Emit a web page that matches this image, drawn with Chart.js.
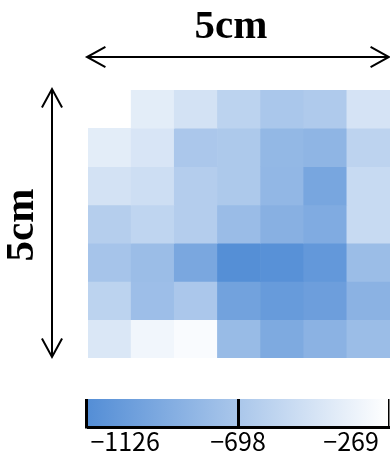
<!DOCTYPE html>
<html>
<head>
<meta charset="utf-8">
<script src="https://cdn.jsdelivr.net/npm/chart.js@4.4.1/dist/chart.umd.min.js"></script>
<style>
  html, body { margin: 0; padding: 0; background: #fff; overflow: hidden; }
  #wrap { position: relative; width: 390px; height: 454px; }
  #heat { position: absolute; left: 0; top: 0; }
  #barBox { position: absolute; left: 0; top: 380px; width: 390px; height: 74px; }
</style>
</head>
<body>
<div id="wrap">
  <canvas id="heat" width="390" height="454"></canvas>
  <div id="barBox"><canvas id="cbar" width="390" height="74"></canvas></div>
</div>
<script>
// Grid columns and rows (top row first)
const COLUMNS = ['1', '2', '3', '4', '5', '6', '7'];
const ROWS = ['1', '2', '3', '4', '5', '6', '7'];

// Cell values per row, left to right (null = no reading)
const ROW_1 = [null, -315, -422, -575, -695, -662, -409];
const ROW_2 = [-315, -389, -688, -675, -848, -874, -568];
const ROW_3 = [-422, -462, -628, -675, -854, -1027, -502];
const ROW_4 = [-622, -555, -628, -802, -921, -974, -502];
const ROW_5 = [-721, -795, -1014, -1260, -1241, -1167, -795];
const ROW_6 = [-575, -781, -688, -1068, -1141, -1101, -901];
const ROW_7 = [-375, -222, -169, -815, -987, -901, -795];
const ROW_VALUES = [ROW_1, ROW_2, ROW_3, ROW_4, ROW_5, ROW_6, ROW_7];

// Colour bar range and tick labels
const SCALE_MIN = -1267;
const SCALE_MAX = -129;
const TICK_VALUES = [-1126, -698, -269];

const LOW_RGB = [84, 142, 214];   // colour at SCALE_MIN
const HIGH_RGB = [255, 255, 255]; // colour at SCALE_MAX

function colorFor(v) {
  if (v === null || v === undefined) return 'rgba(0,0,0,0)';
  let t = (SCALE_MAX - v) / (SCALE_MAX - SCALE_MIN);
  t = Math.max(0, Math.min(1, t));
  const c = HIGH_RGB.map((h, k) => Math.round(h + t * (LOW_RGB[k] - h)));
  return `rgb(${c[0]},${c[1]},${c[2]})`;
}

const LABEL_FONT = '"Liberation Sans Narrow", "Noto Sans CJK JP", sans-serif';
const SERIF_FONT = 'bold 41px "Liberation Serif", "DejaVu Serif", serif';

// Double-headed arrows with the "5cm" dimension labels
function drawArrow(ctx, x1, y1, x2, y2) {
  const ang = Math.atan2(y2 - y1, x2 - x1);
  const len = 21, spread = 0.5;
  ctx.beginPath();
  ctx.moveTo(x1, y1);
  ctx.lineTo(x2, y2);
  [[x1, y1, ang], [x2, y2, ang + Math.PI]].forEach(([x, y, a]) => {
    ctx.moveTo(x + len * Math.cos(a + spread), y + len * Math.sin(a + spread));
    ctx.lineTo(x, y);
    ctx.lineTo(x + len * Math.cos(a - spread), y + len * Math.sin(a - spread));
  });
  ctx.stroke();
}

const dimensionPlugin = {
  id: 'dimensions',
  afterDraw(chart) {
    const { ctx, chartArea: a } = chart;
    ctx.save();
    ctx.strokeStyle = '#000';
    ctx.lineWidth = 2;
    ctx.lineJoin = 'miter';
    drawArrow(ctx, a.left - 1, 57, a.right - 1, 57);
    drawArrow(ctx, 52, a.top - 1, 52, a.bottom - 1);
    ctx.fillStyle = '#000';
    ctx.font = SERIF_FONT;
    ctx.textAlign = 'center';
    ctx.textBaseline = 'alphabetic';
    ctx.fillText('5cm', 231, 38);
    ctx.translate(33, 225);
    ctx.rotate(-Math.PI / 2);
    ctx.fillText('5cm', 0, 0);
    ctx.restore();
  }
};

new Chart(document.getElementById('heat'), {
  type: 'bar',
  data: {
    labels: COLUMNS,
    datasets: ROW_VALUES.map((vals, i) => ({
      label: ROWS[i],
      data: vals.map(v => (v === null ? null : [i, i + 1])),
      backgroundColor: vals.map(colorFor),
      borderWidth: 0,
      barPercentage: 1,
      categoryPercentage: 1
    }))
  },
  options: {
    responsive: false,
    devicePixelRatio: 1,
    animation: false,
    layout: { padding: { left: 88, top: 90, right: 0, bottom: 96 } },
    plugins: { legend: { display: false }, tooltip: { enabled: false } },
    scales: {
      x: { type: 'category', stacked: true, display: false },
      y: { type: 'linear', min: 0, max: ROWS.length, reverse: true, stacked: false, display: false }
    }
  },
  plugins: [dimensionPlugin]
});

// Colour bar: gradient across the value range, with a frame on the left
const gradientPlugin = {
  id: 'gradientFill',
  beforeDraw(chart) {
    const { ctx, chartArea: a, scales: { x } } = chart;
    const g = ctx.createLinearGradient(x.getPixelForValue(SCALE_MIN), 0, x.getPixelForValue(SCALE_MAX), 0);
    g.addColorStop(0, colorFor(SCALE_MIN));
    g.addColorStop(1, colorFor(SCALE_MAX));
    ctx.save();
    ctx.fillStyle = g;
    ctx.fillRect(a.left, a.top, a.right - a.left, a.bottom - a.top);
    ctx.restore();
  },
  afterDraw(chart) {
    const { ctx, chartArea: a } = chart;
    ctx.save();
    ctx.strokeStyle = '#000';
    ctx.lineWidth = 3;
    ctx.beginPath();
    ctx.moveTo(a.left - 1.5, a.top);
    ctx.lineTo(a.left - 1.5, a.bottom + 1.5);
    ctx.stroke();
    ctx.lineWidth = 1.5;
    ctx.beginPath();
    ctx.moveTo(a.right + 0.75, a.top);
    ctx.lineTo(a.right + 0.75, a.bottom + 1.5);
    ctx.stroke();
    ctx.restore();
  }
};

new Chart(document.getElementById('cbar'), {
  type: 'scatter',
  data: { datasets: [] },
  options: {
    responsive: false,
    devicePixelRatio: 1,
    animation: false,
    layout: { padding: { left: 88, top: 19, right: 2, bottom: 0 } },
    plugins: { legend: { display: false }, tooltip: { enabled: false } },
    scales: {
      x: {
        type: 'linear',
        position: 'bottom',
        min: SCALE_MIN,
        max: SCALE_MAX,
        afterBuildTicks(scale) { scale.ticks = TICK_VALUES.map(v => ({ value: v })); },
        afterFit(scale) { scale.height = 27; },
        ticks: {
          autoSkip: false,
          maxRotation: 0,
          padding: 2,
          color: '#000',
          font: { family: LABEL_FONT, size: 25, lineHeight: 1 },
          callback: v => (v < 0 ? '\u2212' : '') + Math.abs(v)
        },
        grid: {
          drawTicks: false,
          lineWidth: 3,
          color: c => (c.tick && c.tick.value === TICK_VALUES[1] ? '#000' : 'rgba(0,0,0,0)')
        },
        border: { display: true, color: '#000', width: 3 }
      },
      y: { display: false, min: 0, max: 1 }
    }
  },
  plugins: [gradientPlugin]
});
</script>
</body>
</html>
